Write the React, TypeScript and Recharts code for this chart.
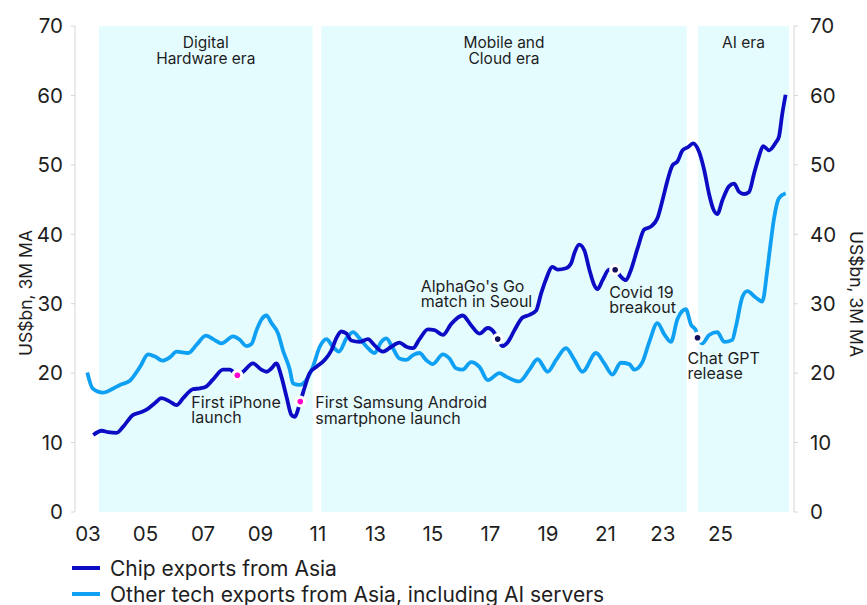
import React from 'react';
import { ComposedChart, Line, XAxis, YAxis, ReferenceArea, Scatter } from 'recharts';

const FONT = 'Inter, "Noto Sans", sans-serif';

// ---- data (years as decimal, values in US$bn, 3M MA) ----
const chipYears = [
  2002.61, 2002.89, 2003.11, 2003.39, 2003.61, 2003.94, 2004.22, 2004.44, 2004.67, 2004.89,
  2005.17, 2005.39, 2005.61, 2005.94, 2006.17, 2006.39, 2006.61, 2006.94, 2007.17, 2007.28,
  2007.42, 2007.61, 2007.94, 2008.22, 2008.39, 2008.56, 2008.72, 2008.89, 2009.06, 2009.22,
  2009.33, 2009.52, 2009.67, 2009.83, 2010.06, 2010.33, 2010.56, 2010.72, 2010.89, 2011.06,
  2011.22, 2011.5, 2011.78, 2012.0, 2012.28, 2012.56, 2012.83, 2013.06, 2013.28, 2013.5,
  2013.78, 2014.0, 2014.28, 2014.56, 2014.94, 2015.22, 2015.5, 2015.78, 2016.0, 2016.11,
  2016.28, 2016.44, 2016.67, 2016.94, 2017.17, 2017.39, 2017.56, 2017.72, 2017.94, 2018.11,
  2018.39, 2018.56, 2018.67, 2018.83, 2019.0, 2019.17, 2019.33, 2019.44, 2019.61, 2019.83,
  2020.03, 2020.22, 2020.39, 2020.56, 2020.78, 2021.0, 2021.22, 2021.44, 2021.61, 2021.78,
  2021.94, 2022.11, 2022.28, 2022.48, 2022.63, 2022.83, 2023.0, 2023.17, 2023.3, 2023.44,
  2023.61, 2023.83, 2024.0, 2024.17, 2024.33, 2024.5, 2024.67, 2024.83, 2024.97, 2025.17,
  2025.39, 2025.5, 2025.61, 2025.72,
];
const chipValues = [
  11.1, 11.7, 11.5, 11.4, 12.3, 14.0, 14.4, 14.9, 15.7, 16.4,
  15.9, 15.4, 16.4, 17.7, 17.8, 18.1, 19.1, 20.5, 20.5, 20.2,
  19.7, 20.2, 21.4, 20.5, 20.2, 20.7, 21.4, 19.5, 16.6, 14.0,
  13.7, 15.9, 18.0, 20.0, 20.9, 21.9, 23.3, 25.0, 26.0, 25.7,
  24.7, 24.5, 24.9, 24.0, 23.1, 23.8, 24.4, 23.8, 23.6, 24.9,
  26.3, 26.2, 25.5, 27.1, 28.3, 26.9, 25.7, 26.5, 25.8, 24.9,
  23.9, 24.4, 26.2, 28.0, 28.4, 29.0, 31.5, 33.5, 35.3, 34.9,
  35.1, 35.8, 37.3, 38.5, 37.7, 34.9, 32.7, 32.1, 33.4, 34.9,
  34.9, 33.9, 33.4, 34.9, 38.0, 40.7, 41.1, 42.3, 44.9, 47.8,
  49.9, 50.5, 52.1, 52.6, 53.1, 51.9, 49.3, 45.7, 43.7, 42.9,
  44.9, 46.9, 47.3, 46.1, 45.8, 46.1, 48.8, 51.2, 52.7, 52.1,
  53.2, 54.1, 57.4, 60.1,
];
const otherYears = [
  2002.41, 2002.59, 2002.94, 2003.28, 2003.5, 2003.83, 2004.17, 2004.44, 2004.67, 2004.92,
  2005.17, 2005.39, 2005.78, 2006.06, 2006.37, 2006.61, 2006.89, 2007.28, 2007.5, 2007.72,
  2007.89, 2008.06, 2008.22, 2008.39, 2008.56, 2008.78, 2008.94, 2009.17, 2009.28, 2009.5,
  2009.72, 2009.94, 2010.17, 2010.39, 2010.61, 2010.81, 2011.06, 2011.28, 2011.5, 2011.78,
  2012.0, 2012.22, 2012.39, 2012.61, 2012.83, 2013.06, 2013.28, 2013.5, 2013.72, 2013.94,
  2014.28, 2014.5, 2014.72, 2014.94, 2015.22, 2015.5, 2015.78, 2016.17, 2016.39, 2016.83,
  2017.17, 2017.44, 2017.78, 2018.06, 2018.39, 2018.67, 2018.94, 2019.39, 2019.67, 2019.94,
  2020.22, 2020.5, 2020.67, 2020.94, 2021.17, 2021.44, 2021.67, 2021.89, 2022.11, 2022.39,
  2022.56, 2022.72, 2022.78, 2022.94, 2023.17, 2023.44, 2023.67, 2023.94, 2024.06, 2024.28,
  2024.44, 2024.72, 2024.94, 2025.11, 2025.22, 2025.33, 2025.5, 2025.72,
];
const otherValues = [
  20.1, 17.8, 17.2, 17.8, 18.3, 18.9, 20.9, 22.7, 22.4, 21.8,
  22.3, 23.1, 22.9, 24.1, 25.4, 24.9, 24.3, 25.3, 24.8, 23.9,
  24.2, 26.2, 27.7, 28.3, 27.2, 25.7, 23.3, 20.5, 18.5, 18.3,
  19.0, 20.9, 23.8, 24.9, 23.8, 23.1, 25.0, 25.9, 25.0, 23.6,
  22.9, 24.5, 25.0, 23.6, 22.1, 21.9, 22.6, 22.9, 21.9, 21.3,
  22.7, 22.1, 20.7, 20.5, 21.6, 20.9, 19.0, 20.0, 19.5, 18.8,
  20.5, 22.0, 20.2, 21.9, 23.6, 21.9, 20.2, 22.9, 21.4, 19.8,
  21.5, 21.3, 20.5, 21.6, 24.5, 27.2, 25.6, 24.5, 27.8, 29.2,
  27.0, 26.2, 25.2, 24.3, 25.5, 25.9, 24.5, 24.8, 26.7, 31.0,
  31.8, 30.9, 30.3, 34.9, 38.7, 42.2, 45.2, 45.9,
];

const seriesNames = ['Chip exports from Asia', 'Other tech exports from Asia, including AI servers'];

const eraNames = [['Digital', 'Hardware era'], ['Mobile and', 'Cloud era'], ['AI era']];
const eraStart = [2002.8, 2010.22, 2022.8];
const eraEnd = [2009.93, 2022.42, 2025.83];

const eventLabels = [
  ['First iPhone', 'launch'],
  ['First Samsung Android', 'smartphone launch'],
  ["AlphaGo's Go", 'match in Seoul'],
  ['Covid 19', 'breakout'],
  ['Chat GPT', 'release'],
];
const eventDates = [2007.42, 2009.52, 2016.11, 2020.03, 2022.78];
const eventValues = [19.7, 15.9, 24.9, 34.9, 25.1];

const yTicks = [0, 10, 20, 30, 40, 50, 60, 70];
const yearTicks = [
  2002, 2003, 2004, 2005, 2006, 2007, 2008, 2009, 2010, 2011, 2012, 2013, 2014,
  2015, 2016, 2017, 2018, 2019, 2020, 2021, 2022, 2023, 2024, 2025, 2026,
];
const yearLabels = [2003, 2005, 2007, 2009, 2011, 2013, 2015, 2017, 2019, 2021, 2023, 2025];

// ---- styling / layout (not data) ----
const CHIP_COLOR = '#0c0cc4';
const OTHER_COLOR = '#0fa0f3';
const ERA_FILL = '#e5fcff';
const AXIS_GREY = '#d6d6d6';
const TEXT = '#1e1e1e';
const eventDotColors = ['#ff00cc', '#ff00cc', '#10105c', '#10105c', '#10105c'];
const eventTextOffsets = [
  [-46, 32.5],
  [15, 6.5],
  [-77, -47.5],
  [-6, 28],
  [-10, 26],
];

const chipData = chipYears.map((x, i) => ({ x, v: chipValues[i] }));
const otherData = otherYears.map((x, i) => ({ x, v: otherValues[i] }));
const eventData = eventDates.map((x, i) => ({ x, v: eventValues[i], idx: i }));

const EventShape = (props: any) => {
  const { cx, cy, payload } = props;
  if (cx == null || cy == null) return null;
  const i = payload.idx;
  const [dx, dy] = eventTextOffsets[i];
  const lines = eventLabels[i];
  return (
    <g>
      <circle cx={cx} cy={cy} r={6} fill="#ffffff" />
      <circle cx={cx} cy={cy} r={2.8} fill={eventDotColors[i]} />
      <text x={cx + dx} y={cy + dy} fontSize={16} fill={TEXT} fontFamily={FONT}>
        {lines.map((l, k) => (
          <tspan key={k} x={cx + dx} dy={k === 0 ? 0 : 15.5}>
            {l}
          </tspan>
        ))}
      </text>
    </g>
  );
};

const makeEraLabel = (lines: string[]) => (props: any) => {
  const vb = props.viewBox || {};
  const cx = vb.x + vb.width / 2;
  const y0 = vb.y + 21.5;
  return (
    <text x={cx} y={y0} textAnchor="middle" fontSize={15.5} fill={TEXT} fontFamily={FONT}>
      {lines.map((l, k) => (
        <tspan key={k} x={cx} dy={k === 0 ? 0 : 16.5}>
          {l}
        </tspan>
      ))}
    </text>
  );
};

const LeftTitle = (props: any) => {
  const vb = props.viewBox || {};
  const x = vb.x + 25;
  const y = vb.y + vb.height / 2 + 24;
  return (
    <text
      x={x}
      y={y}
      transform={`rotate(-90 ${x} ${y})`}
      textAnchor="middle"
      dominantBaseline="central"
      fontSize={17.5}
      fill={TEXT}
      fontFamily={FONT}
    >
      US$bn, 3M MA
    </text>
  );
};

const RightTitle = (props: any) => {
  const vb = props.viewBox || {};
  const x = vb.x + vb.width - 11;
  const y = vb.y + vb.height / 2 + 25;
  return (
    <text
      x={x}
      y={y}
      transform={`rotate(90 ${x} ${y})`}
      textAnchor="middle"
      dominantBaseline="central"
      fontSize={17.5}
      fill={TEXT}
      fontFamily={FONT}
    >
      US$bn, 3M MA
    </text>
  );
};

const tickStyle = { fontSize: 20.5, fill: TEXT, fontFamily: FONT };

export default function App() {
  return (
    <div
      style={{
        position: 'absolute',
        left: 0,
        top: 0,
        width: 867,
        height: 605,
        background: '#ffffff',
        fontFamily: FONT,
      }}
    >
      <ComposedChart width={867} height={605} margin={{ top: 26, right: 0, bottom: 63, left: 0 }}>
        <XAxis
          xAxisId="yr"
          dataKey="x"
          type="number"
          domain={[2002, 2026]}
          ticks={yearTicks}
          allowDataOverflow
          height={0}
          tick={false}
          tickSize={5}
          axisLine={{ stroke: AXIS_GREY }}
          tickLine={{ stroke: AXIS_GREY }}
        />
        <XAxis
          xAxisId="lab"
          dataKey="x"
          type="number"
          domain={[2002.548, 2027.56]}
          ticks={yearLabels}
          allowDataOverflow
          height={30}
          axisLine={false}
          tickLine={false}
          tickSize={0}
          tickMargin={14}
          interval={0}
          tick={tickStyle}
          tickFormatter={(v: number) => String(v).slice(2)}
        />
        <YAxis
          yAxisId="left"
          domain={[0, 70]}
          ticks={yTicks}
          width={75}
          tickSize={4}
          tickMargin={8}
          axisLine={{ stroke: AXIS_GREY }}
          tickLine={{ stroke: AXIS_GREY }}
          tick={tickStyle}
          interval={0}
          label={<LeftTitle />}
        />
        <YAxis
          yAxisId="right"
          orientation="right"
          domain={[0, 70]}
          ticks={yTicks}
          width={73}
          tickSize={4}
          tickMargin={12}
          axisLine={{ stroke: AXIS_GREY }}
          tickLine={{ stroke: AXIS_GREY }}
          tick={{ ...tickStyle, textAnchor: 'start' }}
          interval={0}
          label={<RightTitle />}
        />
        {eraNames.map((lines, i) => (
          <ReferenceArea
            key={i}
            xAxisId="yr"
            yAxisId="left"
            x1={eraStart[i]}
            x2={eraEnd[i]}
            y1={0}
            y2={70}
            fill={ERA_FILL}
            fillOpacity={1}
            stroke="none"
            label={makeEraLabel(lines)}
          />
        ))}
        <Line
          xAxisId="yr"
          yAxisId="right"
          data={chipData}
          dataKey="v"
          stroke="none"
          strokeWidth={0}
          dot={false}
          activeDot={false}
          legendType="none"
          isAnimationActive={false}
        />
        <Line
          xAxisId="yr"
          yAxisId="left"
          data={otherData}
          dataKey="v"
          name={seriesNames[1]}
          type="monotone"
          stroke={OTHER_COLOR}
          strokeWidth={3.8}
          dot={false}
          isAnimationActive={false}
        />
        <Line
          xAxisId="yr"
          yAxisId="left"
          data={chipData}
          dataKey="v"
          name={seriesNames[0]}
          type="monotone"
          stroke={CHIP_COLOR}
          strokeWidth={3.8}
          dot={false}
          isAnimationActive={false}
        />
        <Scatter
          xAxisId="yr"
          yAxisId="left"
          data={eventData}
          dataKey="v"
          shape={EventShape}
          isAnimationActive={false}
        />
      </ComposedChart>
      <div style={{ position: 'absolute', left: 72, top: 555 }}>
        {[CHIP_COLOR, OTHER_COLOR].map((c, i) => (
          <div key={i} style={{ display: 'flex', alignItems: 'center', height: 26 }}>
            <div style={{ width: 28, height: 4, background: c, marginRight: 10 }} />
            <span style={{ fontSize: 21, color: TEXT, fontFamily: FONT, whiteSpace: 'nowrap' }}>
              {seriesNames[i]}
            </span>
          </div>
        ))}
      </div>
    </div>
  );
}
